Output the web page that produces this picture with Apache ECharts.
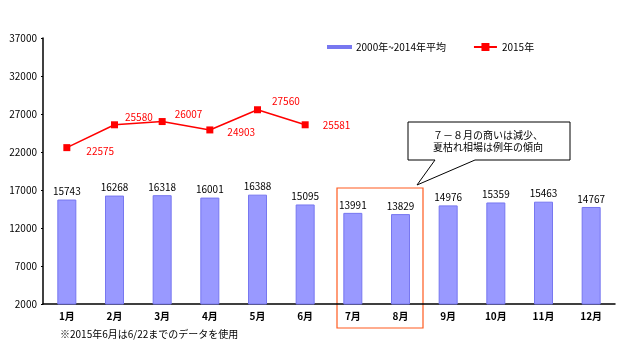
<!DOCTYPE html>
<html>
<head>
<meta charset="utf-8">
<script src="https://cdn.jsdelivr.net/npm/echarts@6/dist/echarts.min.js"></script>
<style>
  html, body { margin: 0; padding: 0; background: #fff; }
  #chart { width: 630px; height: 352px; }
</style>
</head>
<body>
<div id="chart"></div>
<script>
const months = ["1月", "2月", "3月", "4月", "5月", "6月", "7月", "8月", "9月", "10月", "11月", "12月"];
const avgValues = [15743, 16268, 16318, 16001, 16388, 15095, 13991, 13829, 14976, 15359, 15463, 14767];
const values2015 = [22575, 25580, 26007, 24903, 27560, 25581];
const yTicks = [2000, 7000, 12000, 17000, 22000, 27000, 32000, 37000];
const avgName = "2000年~2014年平均";
const name2015 = "2015年";
const noteLines = ["７－８月の商いは減少、", "夏枯れ相場は例年の傾向"];
const footnote = "※2015年6月は6/22までのデータを使用";

const FONT = "Noto Sans CJK JP";
const chart = echarts.init(document.getElementById("chart"));

// label placement for the 2015 line
const lineLabelPos = [[12, 4], [3, -8], [5, -7], [10, 2], [7, -9], [10, 0]];

chart.setOption({
  animation: false,
  textStyle: { fontFamily: FONT },
  grid: { left: 43, right: 15, top: 38, bottom: 48 },
  legend: {
    top: 37,
    left: 322,
    itemGap: 27,
    itemWidth: 23,
    itemHeight: 10,
    textStyle: { fontSize: 10, color: "#000", fontFamily: FONT },
    data: [
      { name: avgName, icon: "path://M0,4 L23,4 L23,6 L0,6 Z", itemStyle: { color: "#6f6ff5" } },
      { name: name2015 }
    ]
  },
  xAxis: {
    type: "category",
    data: months,
    axisLine: { lineStyle: { color: "#000", width: 1.5 } },
    axisTick: { inside: true, length: 3, lineStyle: { color: "#000" } },
    axisLabel: { fontSize: 10, fontWeight: "bold", color: "#000", margin: 7 }
  },
  yAxis: {
    type: "value",
    min: 2000,
    max: 37000,
    splitLine: { show: false },
    axisLine: { show: true, lineStyle: { color: "#000", width: 1.5 } },
    axisTick: { show: true, length: 2, customValues: yTicks, lineStyle: { color: "#000" } },
    axisLabel: { fontSize: 10, color: "#000", margin: 6, customValues: yTicks, formatter: (v) => String(v) }
  },
  series: [
    {
      name: avgName,
      type: "bar",
      data: avgValues,
      barWidth: 19,
      itemStyle: { color: "#9999ff", borderColor: "#7777f0", borderWidth: 1 },
      label: { show: true, position: "top", distance: 3, fontSize: 10, color: "#000" }
    },
    {
      name: name2015,
      type: "line",
      data: values2015.map((v, i) => ({
        value: v,
        label: { offset: lineLabelPos[i] }
      })),
      symbol: "rect",
      symbolSize: 7,
      lineStyle: { color: "#ff0000", width: 1.5 },
      itemStyle: { color: "#ff0000" },
      label: { show: true, position: "right", distance: 4, fontSize: 10, color: "#ff0000" }
    }
  ],
  graphic: [
    {
      type: "rect",
      shape: { x: 337, y: 188, width: 86, height: 140 },
      style: { fill: "none", stroke: "#ff5a1e", lineWidth: 1.2 }
    },
    {
      type: "polygon",
      shape: { points: [[408, 122], [570, 122], [570, 160], [475, 160], [417, 185], [435, 160], [408, 160]] },
      style: { fill: "#fff", stroke: "#000", lineWidth: 1 }
    },
    {
      type: "text",
      left: 433,
      top: 129,
      style: { text: noteLines.join("\n"), font: "10px '" + FONT + "'", lineHeight: 12, fill: "#000" }
    },
    {
      type: "text",
      left: 60,
      top: 329,
      style: { text: footnote, font: "10px '" + FONT + "'", fill: "#000" }
    }
  ]
});
</script>
</body>
</html>
